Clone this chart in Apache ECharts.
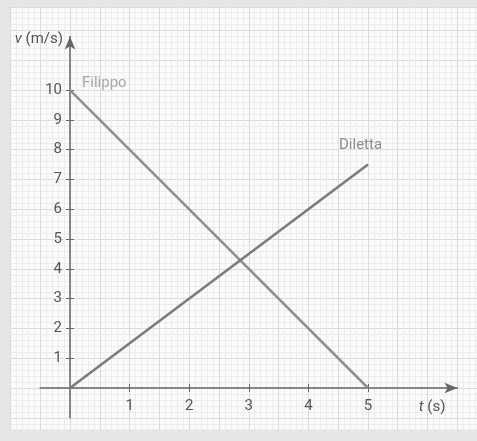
<!DOCTYPE html>
<html>
<head>
<meta charset="utf-8">
<script src="https://cdn.jsdelivr.net/npm/echarts@6/dist/echarts.min.js"></script>
<style>
  html, body { margin: 0; padding: 0; }
  #chart { width: 477px; height: 441px; }
</style>
</head>
<body>
<div id="chart"></div>
<script>
// Velocity–time data for the two runners
const filippo = [[0, 10], [5, 0]];
const diletta = [[0, 0], [5, 7.5]];
const xTickValues = [1, 2, 3, 4, 5];
const yTickValues = [1, 2, 3, 4, 5, 6, 7, 8, 9, 10];

const FONT = 'Roboto, "Liberation Sans", sans-serif';
const AXIS_COLOR = '#666666';
const LABEL_COLOR = '#555555';

// plot area: the axes cross at t = 0, v = 0
const PLOT = { left: 40.2, width: 417.2, top: 36.4, height: 381.4 };
const X_MIN = -0.5, X_MAX = 6.5, Y_MIN = -1, Y_MAX = 11.8;
const xZeroShift = (0 - X_MIN) / (X_MAX - X_MIN) * PLOT.width;
const yZeroShift = (0 - Y_MIN) / (Y_MAX - Y_MIN) * PLOT.height;

const chart = echarts.init(document.getElementById('chart'), null, { renderer: 'canvas' });

// Hidden axes used only for the graph-paper background
const paperAxis = {
  show: true,
  axisLine: { show: false },
  axisTick: { show: false },
  axisLabel: { show: false },
  minorTick: { show: false, splitNumber: 5 },
  splitLine: { show: true, lineStyle: { color: '#dadada', width: 1 } },
  minorSplitLine: { show: true, lineStyle: { color: '#ececec', width: 1 } }
};

// tick marks on the inner side of an axis, so that ticks cross the axis line
function innerTicks(min, max, values, extra) {
  return Object.assign({
    type: 'value', gridIndex: 1, min: min, max: max, interval: 1,
    axisLine: { show: false, onZero: false },
    axisTick: { show: true, inside: true, length: 4, customValues: values, lineStyle: { color: AXIS_COLOR, width: 1 } },
    axisLabel: { show: false },
    splitLine: { show: false }
  }, extra);
}

const option = {
  backgroundColor: '#e6e6e6',
  animation: false,
  textStyle: { fontFamily: FONT },
  grid: [
    {
      // graph paper
      left: 10.4, right: 0, top: 7, bottom: -6.6,
      show: true, backgroundColor: '#fbfbfb', borderWidth: 0,
      outerBoundsMode: 'none', containLabel: false
    },
    {
      left: PLOT.left, width: PLOT.width, top: PLOT.top, height: PLOT.height,
      outerBoundsMode: 'none', containLabel: false
    }
  ],
  xAxis: [
    Object.assign({}, paperAxis, { type: 'value', gridIndex: 0, min: -1, max: 6.83, interval: 0.5 }),
    {
      type: 'value', gridIndex: 1, min: X_MIN, max: X_MAX, interval: 1,
      position: 'bottom',
      offset: -yZeroShift,
      axisLine: {
        show: true, onZero: false,
        symbol: ['none', 'arrow'], symbolSize: [8, 13],
        lineStyle: { color: AXIS_COLOR, width: 1.5 }
      },
      axisTick: { show: true, length: 4, customValues: xTickValues, lineStyle: { color: AXIS_COLOR, width: 1 } },
      axisLabel: { show: true, customValues: xTickValues, margin: 11, fontSize: 15, color: LABEL_COLOR, fontFamily: FONT },
      splitLine: { show: false },
      name: '{i|t} (s)',
      nameLocation: 'end',
      nameGap: -12,
      nameTextStyle: {
        align: 'right', verticalAlign: 'middle', padding: [38, 0, 0, 0],
        fontSize: 15, color: LABEL_COLOR, fontFamily: FONT,
        rich: { i: { fontStyle: 'italic', fontSize: 15, color: LABEL_COLOR, fontFamily: FONT } }
      }
    },
    innerTicks(X_MIN, X_MAX, xTickValues, { position: 'bottom', offset: -yZeroShift })
  ],
  yAxis: [
    Object.assign({}, paperAxis, { type: 'value', gridIndex: 0, min: -2, max: 12.79, interval: 1 }),
    {
      type: 'value', gridIndex: 1, min: Y_MIN, max: Y_MAX, interval: 1,
      position: 'left',
      offset: -xZeroShift,
      axisLine: {
        show: true, onZero: false,
        symbol: ['none', 'arrow'], symbolSize: [8, 13],
        lineStyle: { color: AXIS_COLOR, width: 1.5 }
      },
      axisTick: { show: true, length: 4, customValues: yTickValues, lineStyle: { color: AXIS_COLOR, width: 1 } },
      axisLabel: { show: true, customValues: yTickValues, margin: 8, fontSize: 15, color: LABEL_COLOR, fontFamily: FONT },
      splitLine: { show: false },
      name: '{i|v} (m/s)',
      nameLocation: 'end',
      nameGap: -3,
      nameTextStyle: {
        align: 'right', verticalAlign: 'middle', padding: [0, 7, 0, 0],
        fontSize: 15, color: LABEL_COLOR, fontFamily: FONT,
        rich: { i: { fontStyle: 'italic', fontSize: 15, color: LABEL_COLOR, fontFamily: FONT } }
      }
    },
    innerTicks(Y_MIN, Y_MAX, yTickValues, { position: 'left', offset: -xZeroShift })
  ],
  graphic: [
    {
      // bottom margin strip below the paper
      type: 'rect', z: 5,
      shape: { x: 0, y: 430, width: 477, height: 11 },
      style: { fill: '#e6e6e6' }
    }
  ],
  series: [
    {
      name: 'Filippo', type: 'line', xAxisIndex: 1, yAxisIndex: 1,
      symbol: 'circle', symbolSize: 0, showSymbol: true,
      lineStyle: { color: '#8f8f8f', width: 2.5 },
      itemStyle: { color: '#8f8f8f' },
      data: filippo.map((p, i) => i === 0 ? {
        value: p,
        label: { show: true, formatter: 'Filippo', position: [12, -14], fontSize: 15, color: '#a8a8a8', fontFamily: FONT }
      } : { value: p }),
      z: 3
    },
    {
      name: 'Diletta', type: 'line', xAxisIndex: 1, yAxisIndex: 1,
      symbol: 'circle', symbolSize: 0, showSymbol: true,
      lineStyle: { color: '#7a7a7a', width: 2.5 },
      itemStyle: { color: '#7a7a7a' },
      data: diletta.map((p, i) => i === diletta.length - 1 ? {
        value: p,
        label: { show: true, formatter: 'Diletta', position: [-29, -27], fontSize: 15, color: '#8c8c8c', fontFamily: FONT }
      } : { value: p }),
      z: 3
    }
  ]
};

chart.setOption(option);
</script>
</body>
</html>
